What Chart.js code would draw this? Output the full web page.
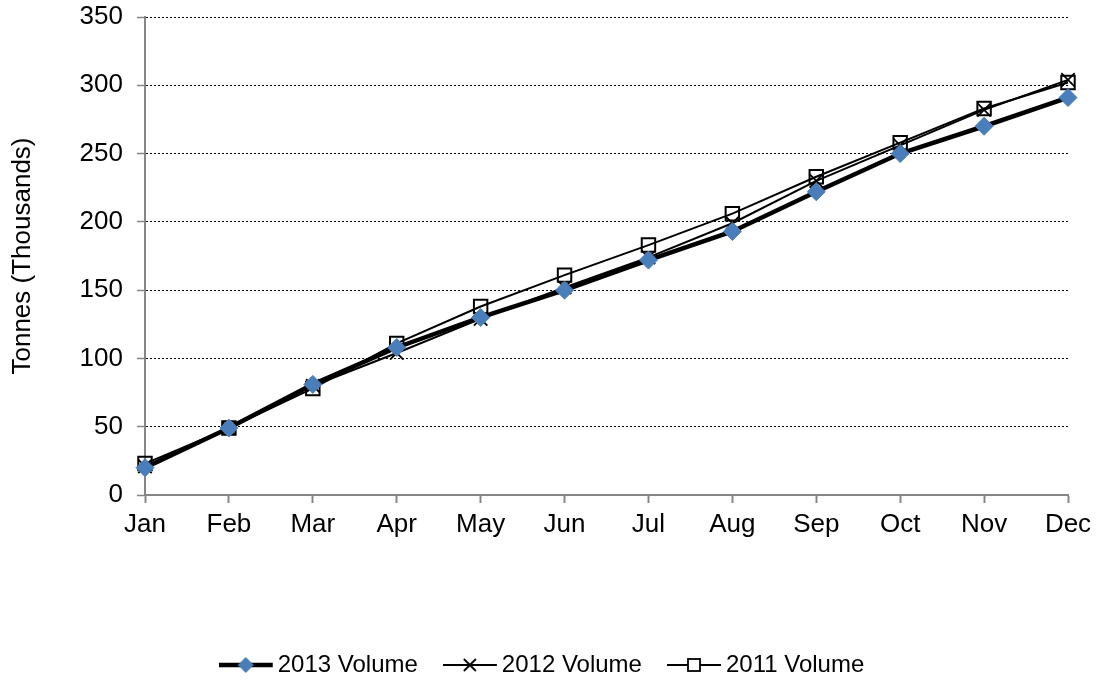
<!DOCTYPE html>
<html>
<head>
<meta charset="utf-8">
<script src="https://cdn.jsdelivr.net/npm/chart.js@4"></script>
<style>
html,body{margin:0;padding:0;background:#fff;}
#wrap{width:1098px;height:684px;position:relative;}
</style>
</head>
<body>
<div id="wrap"><canvas id="c" width="1098" height="684"></canvas></div>
<script>
const months = ["Jan","Feb","Mar","Apr","May","Jun","Jul","Aug","Sep","Oct","Nov","Dec"];
const vol2013 = [20, 49, 81, 108, 130, 150, 172, 193, 222, 250, 270, 291];
const vol2012 = [21, 49, 80, 104, 129, 152, 174, 199, 230, 256, 282, 304];
const vol2011 = [23, 49, 78, 111, 138, 161, 183, 206, 233, 258, 283, 302];
const yTicks = [0, 50, 100, 150, 200, 250, 300, 350];
const seriesNames = ["2013 Volume", "2012 Volume", "2011 Volume"];

const FONT = "'Liberation Sans', Arial, sans-serif";

function legendIcon(kind) {
  const c = document.createElement('canvas');
  c.width = 56; c.height = 22;
  const g = c.getContext('2d');
  g.strokeStyle = '#000';
  g.lineWidth = kind === 'diamond' ? 4.5 : 2;
  g.beginPath(); g.moveTo(0, 11); g.lineTo(54, 11); g.stroke();
  if (kind === 'diamond') {
    g.fillStyle = '#4a7ebb';
    g.beginPath(); g.moveTo(27, 3); g.lineTo(35, 11); g.lineTo(27, 19); g.lineTo(19, 11); g.closePath(); g.fill();
  } else if (kind === 'cross') {
    g.lineWidth = 1.8;
    g.beginPath(); g.moveTo(21, 5); g.lineTo(33, 17); g.moveTo(33, 5); g.lineTo(21, 17); g.stroke();
  } else {
    g.fillStyle = '#fff'; g.lineWidth = 1.8;
    g.fillRect(21, 5, 12, 12); g.strokeRect(21, 5, 12, 12);
  }
  return c;
}
const icons = [legendIcon('diamond'), legendIcon('cross'), legendIcon('square')];

const shiftLegend = {
  id: 'shiftLegend',
  afterLayout(chart) {
    const lg = chart.legend;
    if (lg) { lg.top += 3; lg.bottom += 3; lg.left += 12; lg.right += 12; }
  }
};

new Chart(document.getElementById('c'), {
  type: 'line',
  data: {
    labels: months,
    datasets: [
      { label: seriesNames[0], data: vol2013, borderColor: '#000', borderWidth: 4.5,
        pointStyle: 'rectRot', pointRadius: 9, pointBackgroundColor: '#4a7ebb', pointBorderColor: '#4a7ebb', pointBorderWidth: 1, tension: 0, order: 1 },
      { label: seriesNames[1], data: vol2012, borderColor: '#000', borderWidth: 2,
        pointStyle: 'crossRot', pointRadius: 9.5, pointBorderColor: '#000', pointBorderWidth: 1.8, tension: 0, order: 2 },
      { label: seriesNames[2], data: vol2011, borderColor: '#000', borderWidth: 2,
        pointStyle: 'rect', pointRadius: 9.5, pointBackgroundColor: 'rgba(255,255,255,0)', pointBorderColor: '#000', pointBorderWidth: 2, tension: 0, order: 3 }
    ]
  },
  plugins: [shiftLegend],
  options: {
    responsive: false,
    animation: false,
    devicePixelRatio: 1,
    layout: { padding: { left: 0, right: 30, top: 17, bottom: 0 } },
    plugins: {
      tooltip: { enabled: false },
      legend: {
        position: 'bottom',
        labels: {
          usePointStyle: true,
          pointStyleWidth: 38,
          font: { family: FONT, size: 24 },
          color: '#000',
          padding: 34,
          generateLabels: (chart) => chart.data.datasets.map((ds, i) => ({
            text: ds.label, pointStyle: icons[i], datasetIndex: i, fontColor: '#000',
            lineWidth: 0, strokeStyle: 'rgba(0,0,0,0)', fillStyle: 'rgba(0,0,0,0)', hidden: false
          }))
        }
      }
    },
    scales: {
      x: {
        offset: false,
        border: { color: '#868686', width: 2 },
        grid: { drawOnChartArea: false, drawTicks: true, tickLength: 8, tickColor: '#868686', tickWidth: 2 },
        ticks: { font: { family: FONT, size: 26 }, color: '#000', padding: 6, maxRotation: 0, autoSkip: false },
        afterFit: (s) => { s.height = 121; }
      },
      y: {
        min: 0, max: 350,
        border: { color: '#868686', width: 2, dash: [2, 2] },
        afterBuildTicks: (s) => { s.ticks = yTicks.map(v => ({ value: v })); },
        grid: { color: '#000', lineWidth: 1, drawTicks: true, tickLength: 8, tickColor: '#868686', tickWidth: 1.5, tickBorderDash: [] },
        ticks: { font: { family: FONT, size: 26 }, color: '#000', padding: 14 },
        title: { display: true, text: 'Tonnes (Thousands)', font: { family: FONT, size: 26 }, color: '#000', padding: { top: 7, bottom: 4 } },
        afterFit: (s) => { s.width = 145; s.paddingTop = 0; s.paddingBottom = 0; }
      }
    }
  }
});
</script>
</body>
</html>
